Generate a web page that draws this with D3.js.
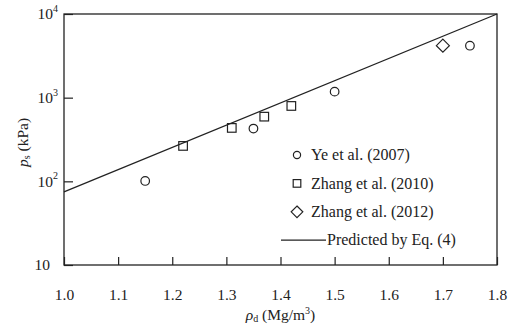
<!DOCTYPE html>
<html>
<head>
<meta charset="utf-8">
<script src="https://cdn.jsdelivr.net/npm/d3@7"></script>
<style>
  body { margin: 0; background: #fff; }
  svg, svg text { font-family: "Liberation Serif", "DejaVu Serif", serif; }
</style>
</head>
<body>
<div id="chart"></div>
<script>
// data
const yeRho = [1.15, 1.35, 1.50, 1.75];
const yePs = [101, 427, 1180, 4180];
const zhang10Rho = [1.22, 1.31, 1.37, 1.42];
const zhang10Ps = [265, 435, 593, 796];
const zhang12Rho = [1.70];
const zhang12Ps = [4180];
const predRho = [1.0, 1.8];
const predPs = [75, 10000];

const xTicks = [1.0, 1.1, 1.2, 1.3, 1.4, 1.5, 1.6, 1.7, 1.8];
const yTicks = [10, 100, 1000, 10000];
const legendLabels = ['Ye et al. (2007)', 'Zhang et al. (2010)', 'Zhang et al. (2012)', 'Predicted by Eq. (4)'];

const width = 511;
const height = 329;
const margin = { top: 14, right: 14, bottom: 64, left: 64 };
const ink = '#222';
const serif = 'Liberation Serif';

const svg = d3.select('#chart')
  .append('svg')
  .attr('width', width)
  .attr('height', height)
  .attr('font-family', serif);

const x = d3.scaleLinear().domain([1.0, 1.8]).range([margin.left, width - margin.right]);
const y = d3.scaleLog().domain([10, 10000]).range([height - margin.bottom, margin.top]);

// frame
svg.append('rect')
  .attr('x', x.range()[0])
  .attr('y', y.range()[1])
  .attr('width', x.range()[1] - x.range()[0])
  .attr('height', y.range()[0] - y.range()[1])
  .attr('fill', 'none')
  .attr('stroke', ink)
  .attr('stroke-width', 1.3);

// x axis, ticks inward
const xAxis = svg.append('g')
  .attr('transform', `translate(0, ${y.range()[0]})`)
  .call(d3.axisBottom(x).tickValues(xTicks).tickSizeInner(-8).tickSizeOuter(0).tickFormat(d3.format('.1f')))
  .attr('font-family', serif)
  .attr('font-size', 15.5);
xAxis.select('.domain').remove();
xAxis.selectAll('.tick line').attr('stroke', ink).attr('stroke-width', 1.2);
xAxis.selectAll('.tick text')
  .attr('y', 35)
  .attr('dy', 0)
  .attr('fill', ink);

// y axis, ticks inward
const yAxis = svg.append('g')
  .attr('transform', `translate(${x.range()[0]}, 0)`)
  .call(d3.axisLeft(y).tickValues(yTicks).tickSizeInner(-9).tickSizeOuter(0).tickFormat(''))
  .attr('font-family', serif)
  .attr('font-size', 15.5);
yAxis.select('.domain').remove();
yAxis.selectAll('.tick line').attr('stroke', ink).attr('stroke-width', 1.2);
yAxis.selectAll('.tick text').remove();
yAxis.selectAll('.tick').each(function(d) {
  const e = Math.round(Math.log10(d));
  const t = d3.select(this).append('text')
    .attr('x', e === 1 ? -14 : -6)
    .attr('y', 0)
    .attr('dy', '0.32em')
    .attr('text-anchor', 'end')
    .attr('fill', ink);
  t.append('tspan').text('10');
  if (e > 1) {
    t.append('tspan').attr('font-size', 10).attr('dy', '-0.75em').text(e);
  }
});

// axis titles
svg.append('text')
  .attr('x', (x.range()[0] + x.range()[1]) / 2)
  .attr('y', 320)
  .attr('text-anchor', 'middle')
  .attr('font-size', 15.5)
  .attr('fill', ink)
  .call(t => {
    t.append('tspan').attr('font-style', 'italic').text('ρ');
    t.append('tspan').attr('font-size', 10).attr('dy', 2).text('d');
    t.append('tspan').attr('dy', -2).text(' (Mg/m');
    t.append('tspan').attr('font-size', 10).attr('dy', -6).text('3');
    t.append('tspan').attr('dy', 6).text(')');
  });

svg.append('text')
  .attr('transform', `translate(28, ${(y.range()[0] + y.range()[1]) / 2 + 3}) rotate(-90)`)
  .attr('text-anchor', 'middle')
  .attr('font-size', 15.5)
  .attr('fill', ink)
  .call(t => {
    t.append('tspan').attr('font-style', 'italic').text('p');
    t.append('tspan').attr('font-size', 10).attr('dy', 2).text('s');
    t.append('tspan').attr('dy', -2).text(' (kPa)');
  });

// predicted line
const line = d3.line().x(d => x(d[0])).y(d => y(d[1]));
svg.append('path')
  .datum(d3.zip(predRho, predPs))
  .attr('d', line)
  .attr('fill', 'none')
  .attr('stroke', ink)
  .attr('stroke-width', 1.3);

// circle, square, diamond markers
function drawSymbols(rho, ps, kind) {
  const g = svg.append('g');
  const pts = d3.zip(rho, ps);
  if (kind === 'circle') {
    g.selectAll('circle').data(pts).enter().append('circle')
      .attr('cx', d => x(d[0])).attr('cy', d => y(d[1])).attr('r', 4.3);
  } else if (kind === 'square') {
    g.selectAll('rect').data(pts).enter().append('rect')
      .attr('x', d => x(d[0]) - 4.3).attr('y', d => y(d[1]) - 4.3)
      .attr('width', 8.6).attr('height', 8.6);
  } else {
    g.selectAll('path').data(pts).enter().append('path')
      .attr('d', d => `M${x(d[0])},${y(d[1]) - 6.5}l6.5,6.5l-6.5,6.5l-6.5,-6.5z`);
  }
  g.selectAll('*').attr('fill', 'none').attr('stroke', ink).attr('stroke-width', 1.2);
}

drawSymbols(yeRho, yePs, 'circle');
drawSymbols(zhang10Rho, zhang10Ps, 'square');
drawSymbols(zhang12Rho, zhang12Ps, 'diamond');

// legend
const legend = svg.append('g').attr('transform', 'translate(297, 155)');
const rowH = 28.4;
legendLabels.forEach((label, i) => {
  const row = legend.append('g').attr('transform', `translate(0, ${i * rowH})`);
  if (i === 0) {
    row.append('circle').attr('r', 3.6);
  } else if (i === 1) {
    row.append('rect').attr('x', -3.8).attr('y', -3.8).attr('width', 7.6).attr('height', 7.6);
  } else if (i === 2) {
    row.append('path').attr('d', 'M0,-5.8l5.8,5.8l-5.8,5.8l-5.8,-5.8z');
  } else {
    row.append('line').attr('x1', -16).attr('x2', 29).attr('y1', 0).attr('y2', 0);
  }
  row.selectAll('circle, rect, path, line')
    .attr('fill', 'none').attr('stroke', ink).attr('stroke-width', 1.2);
  row.append('text')
    .attr('x', i === 3 ? 30 : 14)
    .attr('y', 0)
    .attr('dy', '0.33em')
    .attr('font-size', 16)
    .attr('fill', ink)
    .text(label);
});
</script>
</body>
</html>
